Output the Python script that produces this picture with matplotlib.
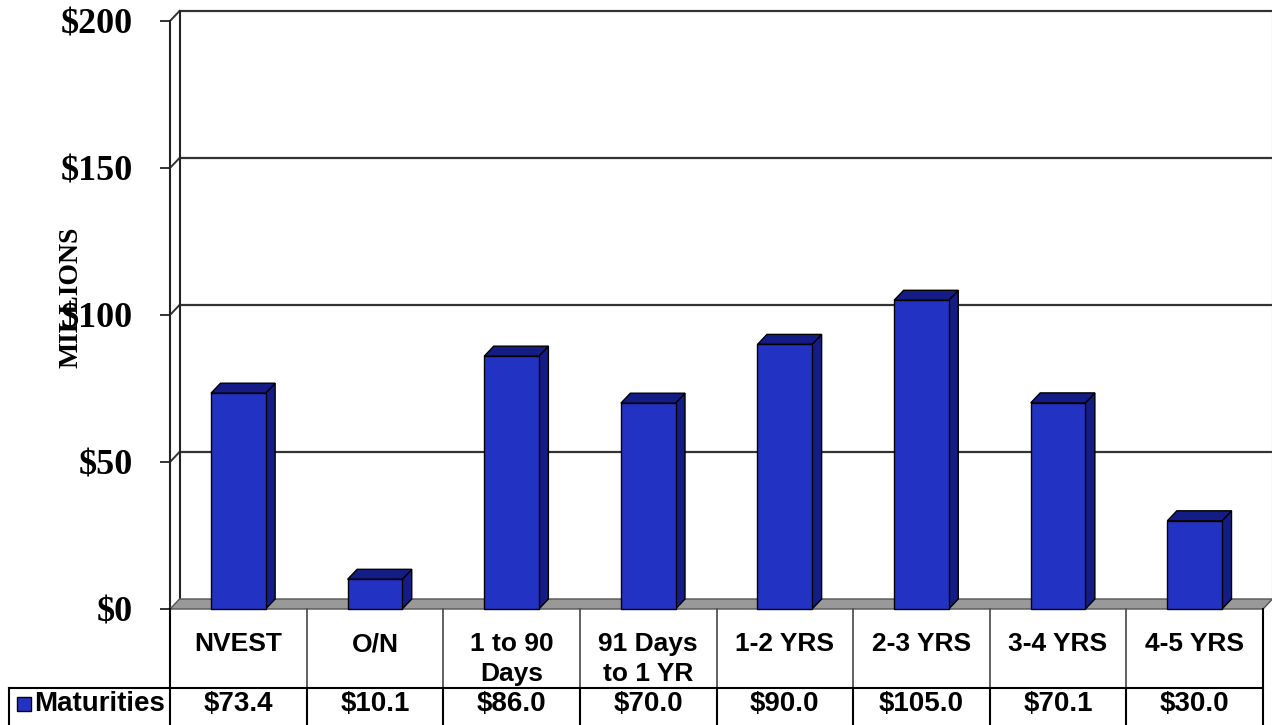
import numpy as np
import matplotlib
matplotlib.use('Agg')
from matplotlib import pyplot as plt
from matplotlib.patches import Polygon, Rectangle

# data
categories = ['NVEST', 'O/N', '1 to 90\nDays', '91 Days\nto 1 YR', '1-2 YRS', '2-3 YRS', '3-4 YRS', '4-5 YRS']
maturities = [73.4, 10.1, 86.0, 70.0, 90.0, 105.0, 70.1, 30.0]
value_labels = ['$73.4', '$10.1', '$86.0', '$70.0', '$90.0', '$105.0', '$70.1', '$30.0']
y_ticks = [0, 50, 100, 150, 200]
y_ticklabels = ['$0', '$50', '$100', '$150', '$200']
series_name = 'Maturities'

W, H = 1272, 725
fig = plt.figure(figsize=(W / 100, H / 100), dpi=100)

face_c = '#2233c4'
dark_c = '#141d85'
grid_c = '#333333'
n = len(categories)

# plot area (front plane) in pixels
x0_px, x1_px = 170, 1263
y_top_px, y_bot_px = 21, 609
ax = fig.add_axes([x0_px / W, (H - y_bot_px) / H, (x1_px - x0_px) / W, (y_bot_px - y_top_px) / H])
ax.set_xlim(0, n)
ax.set_ylim(0, 200)
for s in ax.spines.values():
    s.set_visible(False)

# depth offsets in data units
ddx = 9.5 / ((x1_px - x0_px) / n)
ddy = 10 / ((y_bot_px - y_top_px) / 200)

# back wall gridlines + diagonals on side wall
for v in y_ticks[1:]:
    ax.plot([ddx, n + ddx], [v + ddy, v + ddy], color=grid_c, lw=1.6, clip_on=False, zorder=1)
    ax.plot([0, ddx], [v, v + ddy], color=grid_c, lw=1.4, clip_on=False, zorder=1)
ax.plot([n + ddx, n + ddx], [ddy, 200 + ddy], color='#888888', lw=1.5, clip_on=False, zorder=1)
ax.plot([0, 0], [0, 200], color='#222222', lw=1.5, clip_on=False, zorder=2)
ax.plot([ddx, ddx], [ddy, 200 + ddy], color='#222222', lw=1.5, clip_on=False, zorder=2)

# floor
floor = Polygon([(0, 0), (n, 0), (n + ddx, ddy), (ddx, ddy)], closed=True,
                fc='#999999', ec='#555555', lw=1, clip_on=False, zorder=2)
ax.add_patch(floor)

# 3d bars
bw = 0.40
for i, v in enumerate(maturities):
    xa = i + 0.5 - bw / 2
    xb = i + 0.5 + bw / 2
    side = Polygon([(xb, 0), (xb + ddx, ddy), (xb + ddx, v + ddy), (xb, v)], closed=True,
                   fc=dark_c, ec='black', lw=1, clip_on=False, zorder=3)
    top = Polygon([(xa, v), (xb, v), (xb + ddx, v + ddy), (xa + ddx, v + ddy)], closed=True,
                  fc=dark_c, ec='black', lw=1, clip_on=False, zorder=3)
    front = Rectangle((xa, 0), bw, v, fc=face_c, ec='black', lw=1, clip_on=False, zorder=4)
    ax.add_patch(side)
    ax.add_patch(top)
    ax.add_patch(front)

ax.set_xticks([])
ax.set_yticks(y_ticks)
ax.set_yticklabels(y_ticklabels, fontfamily='Liberation Serif', fontweight='bold', fontsize=26)
ax.tick_params(axis='y', length=7, width=1.3, color='#222222', pad=20)
ax.set_facecolor('none')

fig.text(71 / W, 1 - 297 / H, 'MILLIONS', rotation=90, ha='center', va='center',
         fontfamily='Liberation Serif', fontweight='bold', fontsize=20)

# data table under the chart
tax = fig.add_axes([x0_px / W, 0, (x1_px - x0_px) / W, (H - y_bot_px) / H])
tax.set_xlim(0, n)
tax.set_ylim(H, y_bot_px)
tax.axis('off')
slot = (x1_px - x0_px) / n
row_y = 688
left_x = (9 - x0_px) / slot
for i in range(1, n):
    tax.plot([i, i], [y_bot_px, row_y], color='#555555', lw=1.3, clip_on=False)
    tax.plot([i, i], [row_y, H], color='black', lw=1.5, clip_on=False)
tax.plot([0, 0], [y_bot_px, H], color='black', lw=1.5, clip_on=False)
tax.plot([n, n], [y_bot_px, H], color='black', lw=1.5, clip_on=False)
tax.plot([left_x, n], [row_y, row_y], color='black', lw=1.5, clip_on=False)
tax.plot([left_x, left_x], [row_y, H], color='black', lw=1.5, clip_on=False)

for i, c in enumerate(categories):
    tax.text(i + 0.5, 632, c, ha='center', va='top', fontfamily='Liberation Sans',
             fontweight='bold', fontsize=19, linespacing=1.33)
    tax.text(i + 0.5, 704, value_labels[i], ha='center', va='center', fontfamily='Liberation Sans',
             fontweight='bold', fontsize=20)

sq = Rectangle(((17 - x0_px) / slot, 697), 14 / slot, 14, fc=face_c, ec='black', lw=1, clip_on=False)
tax.add_patch(sq)
tax.text((34 - x0_px) / slot, 704, series_name, ha='left', va='center', fontfamily='Liberation Sans',
         fontweight='bold', fontsize=20)

plt.savefig('out.png', dpi=100)
